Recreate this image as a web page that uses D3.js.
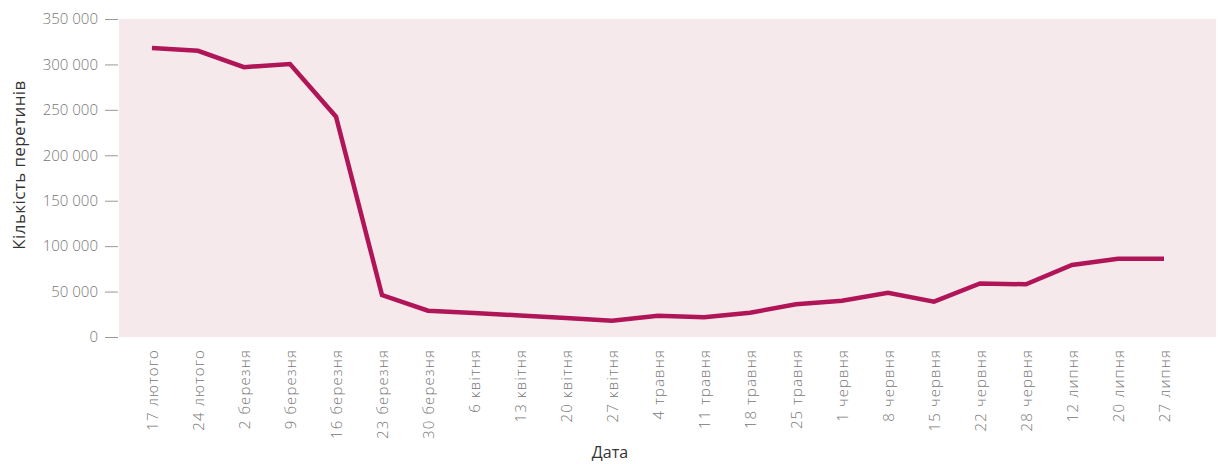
<!DOCTYPE html>
<html>
<head>
<meta charset="utf-8">
<script src="https://cdn.jsdelivr.net/npm/d3@7"></script>
<style>
  body { margin: 0; background: #fff; }
  svg text { font-family: "Open Sans", sans-serif; }
  .tick text { fill: #777; font-size: 15px; font-weight: 300; }
  .x-axis .tick text { letter-spacing: 1.1px; }
  .tick line { stroke: #999; }
  .title { fill: #333; font-size: 16px; }
</style>
</head>
<body>
<script>
// week labels on the x axis
var dates = ['17 лютого', '24 лютого', '2 березня', '9 березня', '16 березня', '23 березня',
  '30 березня', '6 квітня', '13 квітня', '20 квітня', '27 квітня', '4 травня', '11 травня',
  '18 травня', '25 травня', '1 червня', '8 червня', '15 червня', '22 червня', '28 червня',
  '12 липня', '20 липня', '27 липня'];

// number of crossings
var crossings = [318000, 315000, 297000, 300500, 242500, 46200,
  29000, 26400, 23700, 20900, 18000, 23500, 21700,
  26700, 36000, 40000, 48700, 38900, 59000, 58000,
  79200, 86200, 86200];

var yTicks = [0, 50000, 100000, 150000, 200000, 250000, 300000, 350000];

var width = 1218, height = 464;
var plot = { left: 119, right: 1216, top: 19, bottom: 337 };

var svg = d3.select('body').append('svg')
  .attr('width', width)
  .attr('height', height);

// pink plot background
svg.append('rect')
  .attr('x', plot.left)
  .attr('y', plot.top)
  .attr('width', plot.right - plot.left)
  .attr('height', plot.bottom - plot.top)
  .attr('fill', '#f5e9ec');

var x = d3.scalePoint()
  .domain(dates)
  .range([152, 1164]);

var y = d3.scaleLinear()
  .domain([0, 350000])
  .range([plot.bottom, plot.top]);

var locale = d3.formatLocale({ decimal: ',', thousands: ' ', grouping: [3], currency: ['', ''] });
var fmt = locale.format(',d');

// y axis, no domain line
var yAxis = svg.append('g')
  .attr('transform', 'translate(' + (plot.left - 1) + ',0)')
  .call(d3.axisLeft(y).tickValues(yTicks).tickFormat(fmt).tickSize(13).tickPadding(7));
yAxis.select('.domain').remove();

// x axis, rotated labels
var xAxis = svg.append('g')
  .attr('class', 'x-axis')
  .attr('transform', 'translate(0,' + plot.bottom + ')')
  .call(d3.axisBottom(x).tickSize(0).tickPadding(0));
xAxis.select('.domain').remove();
xAxis.selectAll('text')
  .attr('text-anchor', 'end')
  .attr('transform', 'rotate(-90)')
  .attr('x', -12)
  .attr('y', 0)
  .attr('dy', '0.35em');

// the line
var line = d3.line()
  .x(function(d, i) { return x(dates[i]); })
  .y(function(d) { return y(d); });

svg.append('path')
  .datum(crossings)
  .attr('d', line)
  .attr('fill', 'none')
  .attr('stroke', '#b01657')
  .attr('stroke-width', 4.5);

// axis titles
svg.append('text')
  .attr('class', 'title')
  .attr('x', 610)
  .attr('y', 458)
  .attr('text-anchor', 'middle')
  .text('Дата');

svg.append('text')
  .attr('class', 'title')
  .attr('transform', 'translate(25,165) rotate(-90)')
  .attr('text-anchor', 'middle')
  .style('font-size', '17px')
  .style('letter-spacing', '0.4px')
  .text('Кількість перетинів');
</script>
</body>
</html>
